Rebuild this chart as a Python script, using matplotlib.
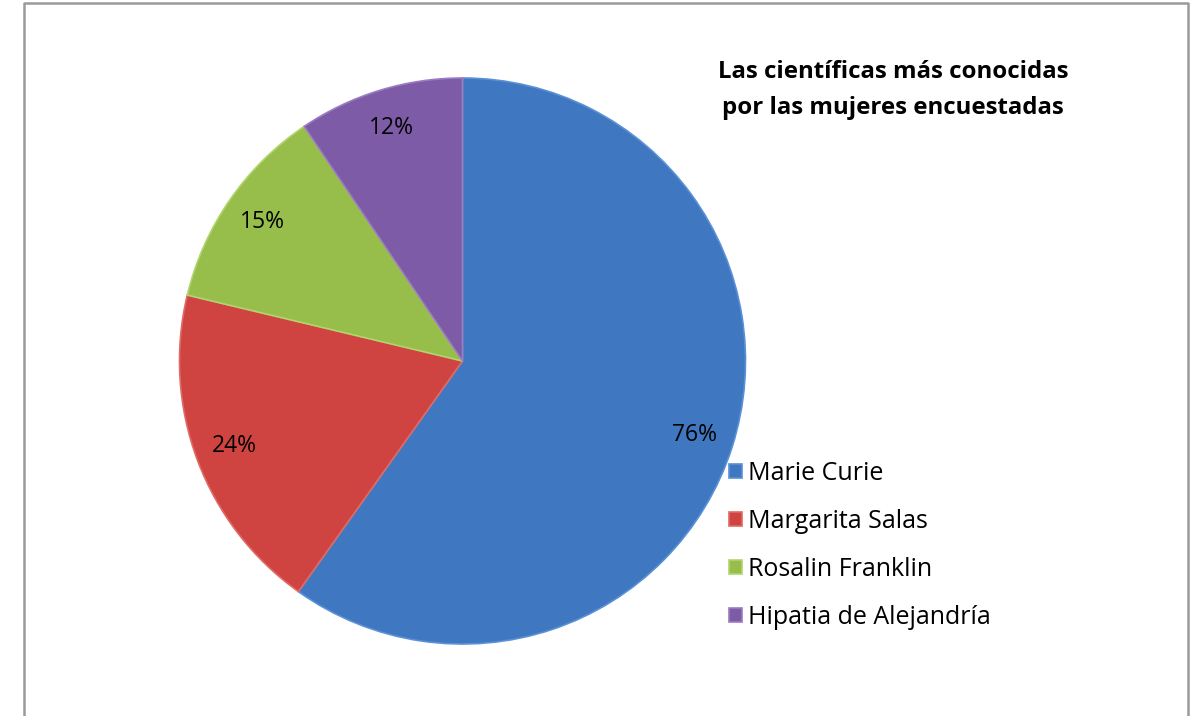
import matplotlib.pyplot as plt
from matplotlib.lines import Line2D

# datos del grafico
cientificas = ['Marie Curie', 'Margarita Salas', 'Rosalin Franklin', 'Hipatia de Alejandría']
porcentajes = [76, 24, 15, 12]
colores = ['#3f77c0', '#cf4440', '#97bd4b', '#7e5ba7']
bordes = ['#5a90d6', '#e06a66', '#b2d46e', '#9a7cc0']

plt.rcParams['font.family'] = ['Open Sans', 'DejaVu Sans']

W, H = 1195, 716
fig = plt.figure(figsize=(W / 100, H / 100), dpi=100)

# pie: centro (462, 361), radio 283 px
cx, cy, r = 462.5, 361, 283
ax = fig.add_axes([(cx - r) / W, (H - cy - r) / H, 2 * r / W, 2 * r / H])
cunas, textos = ax.pie(porcentajes, colors=colores, startangle=90, counterclock=False,
                       labels=[str(p) + '%' for p in porcentajes], labeldistance=0.86,
                       wedgeprops=dict(linewidth=1.2),
                       textprops=dict(fontsize=16.5, color='black'))
for t in textos:
    t.set_horizontalalignment('center')
    t.set_verticalalignment('center')
for c, b in zip(cunas, bordes):
    c.set_edgecolor(b)
ax.set_xlim(-1, 1)
ax.set_ylim(-1, 1)
ax.set_aspect('equal')
ax.axis('off')

# titulo
fig.text(893 / W, 1 - 90 / H, 'Las científicas más conocidas\npor las mujeres encuestadas',
         ha='center', va='center', fontsize=17.3, fontweight='bold', linespacing=1.62)

# leyenda
fig.legend(cunas, cientificas, loc='upper left', bbox_to_anchor=(729 / W, 1 - 461 / H),
           frameon=False, fontsize=18, handlelength=0.5, handleheight=0.5,
           handletextpad=0.25, labelspacing=0.92, borderaxespad=0, borderpad=0)

# marco
marco = Line2D([23.5 / W, 23.5 / W, 1188 / W, 1188 / W],
               [0, 1 - 2.5 / H, 1 - 2.5 / H, 0],
               transform=fig.transFigure, color='#9a9a9a', linewidth=1.8)
fig.add_artist(marco)

fig.savefig('out.png', dpi=100, facecolor='white')
